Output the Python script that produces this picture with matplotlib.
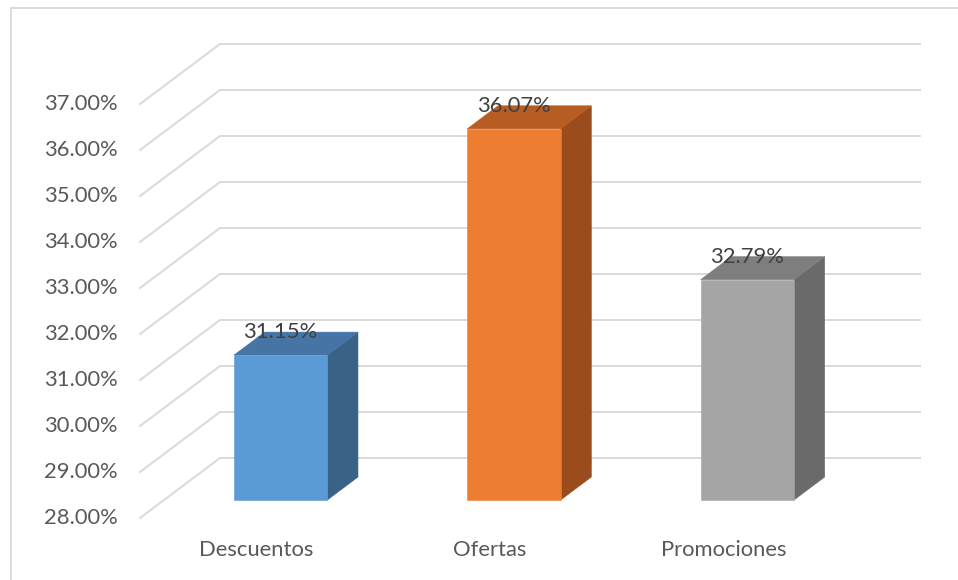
import matplotlib
matplotlib.use("Agg")
import matplotlib.pyplot as plt
from matplotlib.patches import Polygon
from matplotlib.lines import Line2D
from matplotlib.transforms import ScaledTranslation

# Data
categories = ["Descuentos", "Ofertas", "Promociones"]
values = [31.15, 36.07, 32.79]
y_ticks = [28, 29, 30, 31, 32, 33, 34, 35, 36, 37]

front_colors = ["#5B9BD5", "#ED7D31", "#A5A5A5"]
top_colors = ["#4675A5", "#B75C23", "#7E7E7E"]
side_colors = ["#396287", "#9A4C1D", "#6A6A6A"]

W, H, DPI = 958, 580, 100
fig = plt.figure(figsize=(W / DPI, H / DPI), dpi=DPI)
ax = fig.add_axes([0, 0, 1, 1])
ax.set_axis_off()

# Axis scales (category units horizontally, percent vertically)
px_per_cat = 700 / 3.0
px_per_pct = 46.0
floor_left_px, floor_px_y = 140.0, 518.0
x_lo = -0.5 - floor_left_px / px_per_cat
x_hi = x_lo + W / px_per_cat
y_lo = y_ticks[0] - (H - floor_px_y) / px_per_pct
y_hi = y_lo + H / px_per_pct
ax.set_xlim(x_lo, x_hi)
ax.set_ylim(y_lo, y_hi)

# Oblique depth vector for the pseudo-3D projection
DX = 80 / px_per_cat
DY = 60 / px_per_pct
x_left, x_right = -0.5, len(categories) - 0.5
base = y_ticks[0]
FONT = "Lato"
FS = 15.8


def proj(x, y, d):
    return (x + d * DX, y + d * DY)


grid_color = "#D9D9D9"
tick_shift = ax.transData + ScaledTranslation(-0.22, 0, fig.dpi_scale_trans)
for v in y_ticks:
    pts = [proj(x_left, v, 0), proj(x_left, v, 1), proj(x_right, v, 1)]
    ax.add_line(Line2D([p[0] for p in pts], [p[1] for p in pts],
                       color=grid_color, lw=1.4, zorder=1,
                       solid_joinstyle="miter"))
    ax.text(x_left, v, f"{v:.2f}%", ha="right", va="center",
            fontsize=FS, color="#595959", family=FONT, transform=tick_shift)

# Bars as boxes
bar_w = 0.4
d0, d1 = 0.3, 0.683
for i, (cat, val) in enumerate(zip(categories, values)):
    xa, xb = i - bar_w / 2, i + bar_w / 2
    front = [proj(xa, base, d0), proj(xb, base, d0), proj(xb, val, d0), proj(xa, val, d0)]
    side = [proj(xb, base, d0), proj(xb, base, d1), proj(xb, val, d1), proj(xb, val, d0)]
    top = [proj(xa, val, d0), proj(xb, val, d0), proj(xb, val, d1), proj(xa, val, d1)]
    for poly, col in ((side, side_colors[i]), (top, top_colors[i]), (front, front_colors[i])):
        ax.add_patch(Polygon(poly, closed=True, facecolor=col, edgecolor=col,
                             lw=0.4, zorder=3))
    lx, _ = proj(i, val, d0)
    _, ly = proj(i, val, d1)
    ax.text(lx, ly, f"{val:.2f}%", ha="center", va="center", fontsize=FS,
            color="#404040", family=FONT, zorder=5)
    ax.text(i, base - 32 / px_per_pct, cat, ha="center", va="center",
            fontsize=FS, color="#595959", family=FONT)

# Chart area border
border_kw = dict(color="#D9D9D9", lw=1.3, transform=None)
fig.add_artist(Line2D([10.5, W + 5], [H - 8, H - 8], **border_kw))
fig.add_artist(Line2D([10.5, 10.5], [-5, H - 8], **border_kw))

fig.savefig("out.png", dpi=DPI, facecolor="white")
